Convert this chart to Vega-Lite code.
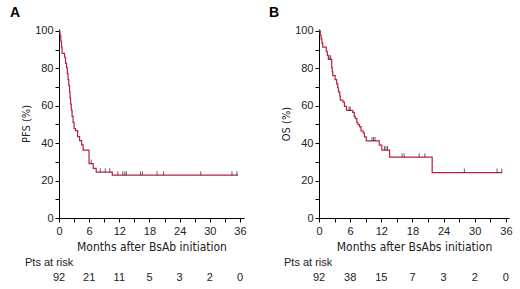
{
  "$schema": "https://vega.github.io/schema/vega-lite/v6.json",
  "autosize": {"type": "pad"},
  "padding": {"left": 10, "top": 5, "right": 0, "bottom": 0},
  "background": "white",
  "spacing": 22,
  "config": {
    "view": {"stroke": null},
    "font": "Liberation Sans",
    "axis": {
      "grid": false,
      "domainColor": "#000",
      "tickColor": "#000",
      "tickSize": 4,
      "labelOverlap": false,
      "labelFont": "Liberation Sans",
      "labelFontSize": 11,
      "labelColor": "#222",
      "titleFont": "Liberation Sans Narrow, DejaVu Sans Condensed, sans-serif",
      "titleFontWeight": "normal",
      "titleColor": "#222"
    }
  },
  "datasets": {
    "pfs": [
      {"t": 0, "s": 100}, {"t": 0.2, "s": 97.8}, {"t": 0.35, "s": 94.6}, {"t": 0.5, "s": 91.3},
      {"t": 0.62, "s": 88.0}, {"t": 1.1, "s": 85.9}, {"t": 1.3, "s": 82.6}, {"t": 1.5, "s": 80.4},
      {"t": 1.65, "s": 77.2}, {"t": 1.8, "s": 74.0}, {"t": 1.95, "s": 70.7}, {"t": 2.1, "s": 67.4},
      {"t": 2.2, "s": 64.1}, {"t": 2.3, "s": 60.9}, {"t": 2.45, "s": 57.6}, {"t": 2.6, "s": 54.3},
      {"t": 2.8, "s": 51.1}, {"t": 3.0, "s": 47.8}, {"t": 3.3, "s": 46.7}, {"t": 3.7, "s": 43.5},
      {"t": 4.1, "s": 41.3}, {"t": 4.5, "s": 39.1}, {"t": 4.8, "s": 36.3}, {"t": 5.97, "s": 29.1},
      {"t": 6.8, "s": 26.5}, {"t": 7.4, "s": 24.5}, {"t": 10.6, "s": 22.9}, {"t": 35.6, "s": 22.9}
    ],
    "pfsCens": [
      {"t": 6.4, "s": 29.1}, {"t": 8.2, "s": 24.5}, {"t": 9.2, "s": 24.5}, {"t": 10.1, "s": 24.5},
      {"t": 11.7, "s": 22.9}, {"t": 12.7, "s": 22.9}, {"t": 13.1, "s": 22.9}, {"t": 13.4, "s": 22.9},
      {"t": 16.2, "s": 22.9}, {"t": 16.6, "s": 22.9}, {"t": 19.5, "s": 22.9}, {"t": 20.8, "s": 22.9},
      {"t": 28.2, "s": 22.9}, {"t": 34.4, "s": 22.9}, {"t": 35.4, "s": 22.9}
    ],
    "os": [
      {"t": 0, "s": 100}, {"t": 0.25, "s": 97.8}, {"t": 0.4, "s": 95.7}, {"t": 0.55, "s": 93.5},
      {"t": 0.73, "s": 91.3}, {"t": 1.4, "s": 89.1}, {"t": 1.6, "s": 86.9}, {"t": 1.8, "s": 84.8},
      {"t": 2.45, "s": 80.4}, {"t": 2.55, "s": 78.2}, {"t": 2.65, "s": 76.1}, {"t": 3.1, "s": 73.9},
      {"t": 3.4, "s": 71.7}, {"t": 3.6, "s": 69.6}, {"t": 3.75, "s": 67.4}, {"t": 4.0, "s": 65.2},
      {"t": 4.1, "s": 63.0}, {"t": 4.6, "s": 61.9}, {"t": 4.9, "s": 59.7}, {"t": 5.3, "s": 57.5},
      {"t": 6.5, "s": 56.4}, {"t": 6.8, "s": 54.2}, {"t": 7.0, "s": 53.1}, {"t": 7.3, "s": 51.0},
      {"t": 7.5, "s": 49.9}, {"t": 7.8, "s": 48.8}, {"t": 8.1, "s": 46.6}, {"t": 8.5, "s": 45.5},
      {"t": 8.75, "s": 43.3}, {"t": 9.1, "s": 41.2}, {"t": 11.6, "s": 38.9}, {"t": 12.1, "s": 36.3},
      {"t": 13.6, "s": 32.5}, {"t": 21.8, "s": 24.3}, {"t": 35.3, "s": 24.3}
    ],
    "osCens": [
      {"t": 2.1, "s": 84.8}, {"t": 2.25, "s": 84.8}, {"t": 5.8, "s": 57.5}, {"t": 6.0, "s": 57.5},
      {"t": 10.2, "s": 41.2}, {"t": 10.5, "s": 41.2}, {"t": 10.8, "s": 41.2},
      {"t": 12.6, "s": 36.3}, {"t": 12.9, "s": 36.3}, {"t": 13.2, "s": 36.3},
      {"t": 16.0, "s": 32.5}, {"t": 16.4, "s": 32.5}, {"t": 19.3, "s": 32.5}, {"t": 20.4, "s": 32.5},
      {"t": 28.0, "s": 24.3}, {"t": 34.3, "s": 24.3}, {"t": 35.2, "s": 24.3}
    ],
    "pfsRisk": [
      {"t": 0, "n": 92}, {"t": 6, "n": 21}, {"t": 12, "n": 11}, {"t": 18, "n": 5},
      {"t": 24, "n": 3}, {"t": 30, "n": 2}, {"t": 36, "n": 0}
    ],
    "osRisk": [
      {"t": 0, "n": 92}, {"t": 6, "n": 38}, {"t": 12, "n": 15}, {"t": 18, "n": 7},
      {"t": 24, "n": 3}, {"t": 30, "n": 2}, {"t": 36, "n": 0}
    ]
  },
  "hconcat": [
    {
      "spacing": 5,
      "vconcat": [
        {
          "width": 185,
          "height": 189,
          "title": {"text": "A", "anchor": "start", "frame": "group", "dx": -49, "fontSize": 14, "fontWeight": "bold", "font": "Liberation Sans", "baseline": "alphabetic", "offset": -6, "color": "#000"},
          "layer": [
            {
              "data": {"name": "pfs"},
              "mark": {"type": "line", "interpolate": "step-after", "color": "#b5223f", "strokeWidth": 1.2},
              "encoding": {
                "x": {"field": "t", "type": "quantitative", "scale": {"domain": [0, 36.8], "nice": false},
                  "axis": {"values": [0, 3, 6, 9, 12, 15, 18, 21, 24, 27, 30, 33, 36], "labelExpr": "datum.value % 6 === 0 ? datum.label : ' '", "labelOverlap": false, "title": "Months after BsAb initiation", "titleFontSize": 12, "titlePadding": 5, "labelPadding": 3, "labelFlush": false}},
                "y": {"field": "s", "type": "quantitative", "scale": {"domain": [0, 101], "nice": false},
                  "axis": {"values": [0, 10, 20, 30, 40, 50, 60, 70, 80, 90, 100], "labelExpr": "datum.value % 20 === 0 ? datum.label : ' '", "labelOverlap": false, "title": "PFS (%)", "titleFontSize": 11, "titlePadding": 3, "labelPadding": 2}}
              }
            },
            {
              "data": {"name": "pfsCens"},
              "mark": {"type": "tick", "orient": "vertical", "size": 4, "thickness": 1, "color": "#222", "yOffset": -2},
              "encoding": {
                "x": {"field": "t", "type": "quantitative", "axis": {"values": [0, 3, 6, 9, 12, 15, 18, 21, 24, 27, 30, 33, 36], "labelExpr": "datum.value % 6 === 0 ? datum.label : ' '", "labelOverlap": false}},
                "y": {"field": "s", "type": "quantitative", "axis": {"values": [0, 10, 20, 30, 40, 50, 60, 70, 80, 90, 100], "labelExpr": "datum.value % 20 === 0 ? datum.label : ' '", "labelOverlap": false}}
              }
            }
          ]
        },
        {
          "width": 185,
          "height": 14,
          "title": {"text": "Pts at risk", "anchor": "start", "frame": "group", "dx": -34, "fontSize": 11, "fontWeight": "normal", "font": "Liberation Sans", "baseline": "alphabetic", "offset": -10, "color": "#222"},
          "data": {"name": "pfsRisk"},
          "mark": {"type": "text", "fontSize": 11, "font": "Liberation Sans", "color": "#222", "dy": 4},
          "encoding": {
            "x": {"field": "t", "type": "quantitative", "scale": {"domain": [0, 36.8], "nice": false}, "axis": null},
            "text": {"field": "n", "type": "quantitative"}
          }
        }
      ]
    },
    {
      "spacing": 5,
      "vconcat": [
        {
          "width": 190,
          "height": 189,
          "title": {"text": "B", "anchor": "start", "frame": "group", "dx": -50, "fontSize": 14, "fontWeight": "bold", "font": "Liberation Sans", "baseline": "alphabetic", "offset": -6, "color": "#000"},
          "layer": [
            {
              "data": {"name": "os"},
              "mark": {"type": "line", "interpolate": "step-after", "color": "#b5223f", "strokeWidth": 1.2},
              "encoding": {
                "x": {"field": "t", "type": "quantitative", "scale": {"domain": [0, 36.6], "nice": false},
                  "axis": {"values": [0, 3, 6, 9, 12, 15, 18, 21, 24, 27, 30, 33, 36], "labelExpr": "datum.value % 6 === 0 ? datum.label : ' '", "labelOverlap": false, "title": "Months after BsAbs initiation", "titleFontSize": 12, "titlePadding": 5, "labelPadding": 3, "labelFlush": false}},
                "y": {"field": "s", "type": "quantitative", "scale": {"domain": [0, 101], "nice": false},
                  "axis": {"values": [0, 10, 20, 30, 40, 50, 60, 70, 80, 90, 100], "labelExpr": "datum.value % 20 === 0 ? datum.label : ' '", "labelOverlap": false, "title": "OS (%)", "titleFontSize": 11, "titlePadding": 3, "labelPadding": 2}}
              }
            },
            {
              "data": {"name": "osCens"},
              "mark": {"type": "tick", "orient": "vertical", "size": 4, "thickness": 1, "color": "#222", "yOffset": -2},
              "encoding": {
                "x": {"field": "t", "type": "quantitative", "axis": {"values": [0, 3, 6, 9, 12, 15, 18, 21, 24, 27, 30, 33, 36], "labelExpr": "datum.value % 6 === 0 ? datum.label : ' '", "labelOverlap": false}},
                "y": {"field": "s", "type": "quantitative", "axis": {"values": [0, 10, 20, 30, 40, 50, 60, 70, 80, 90, 100], "labelExpr": "datum.value % 20 === 0 ? datum.label : ' '", "labelOverlap": false}}
              }
            }
          ]
        },
        {
          "width": 190,
          "height": 14,
          "title": {"text": "Pts at risk", "anchor": "start", "frame": "group", "dx": -35, "fontSize": 11, "fontWeight": "normal", "font": "Liberation Sans", "baseline": "alphabetic", "offset": -10, "color": "#222"},
          "data": {"name": "osRisk"},
          "mark": {"type": "text", "fontSize": 11, "font": "Liberation Sans", "color": "#222", "dy": 4},
          "encoding": {
            "x": {"field": "t", "type": "quantitative", "scale": {"domain": [0, 36.6], "nice": false}, "axis": null},
            "text": {"field": "n", "type": "quantitative"}
          }
        }
      ]
    }
  ]
}
